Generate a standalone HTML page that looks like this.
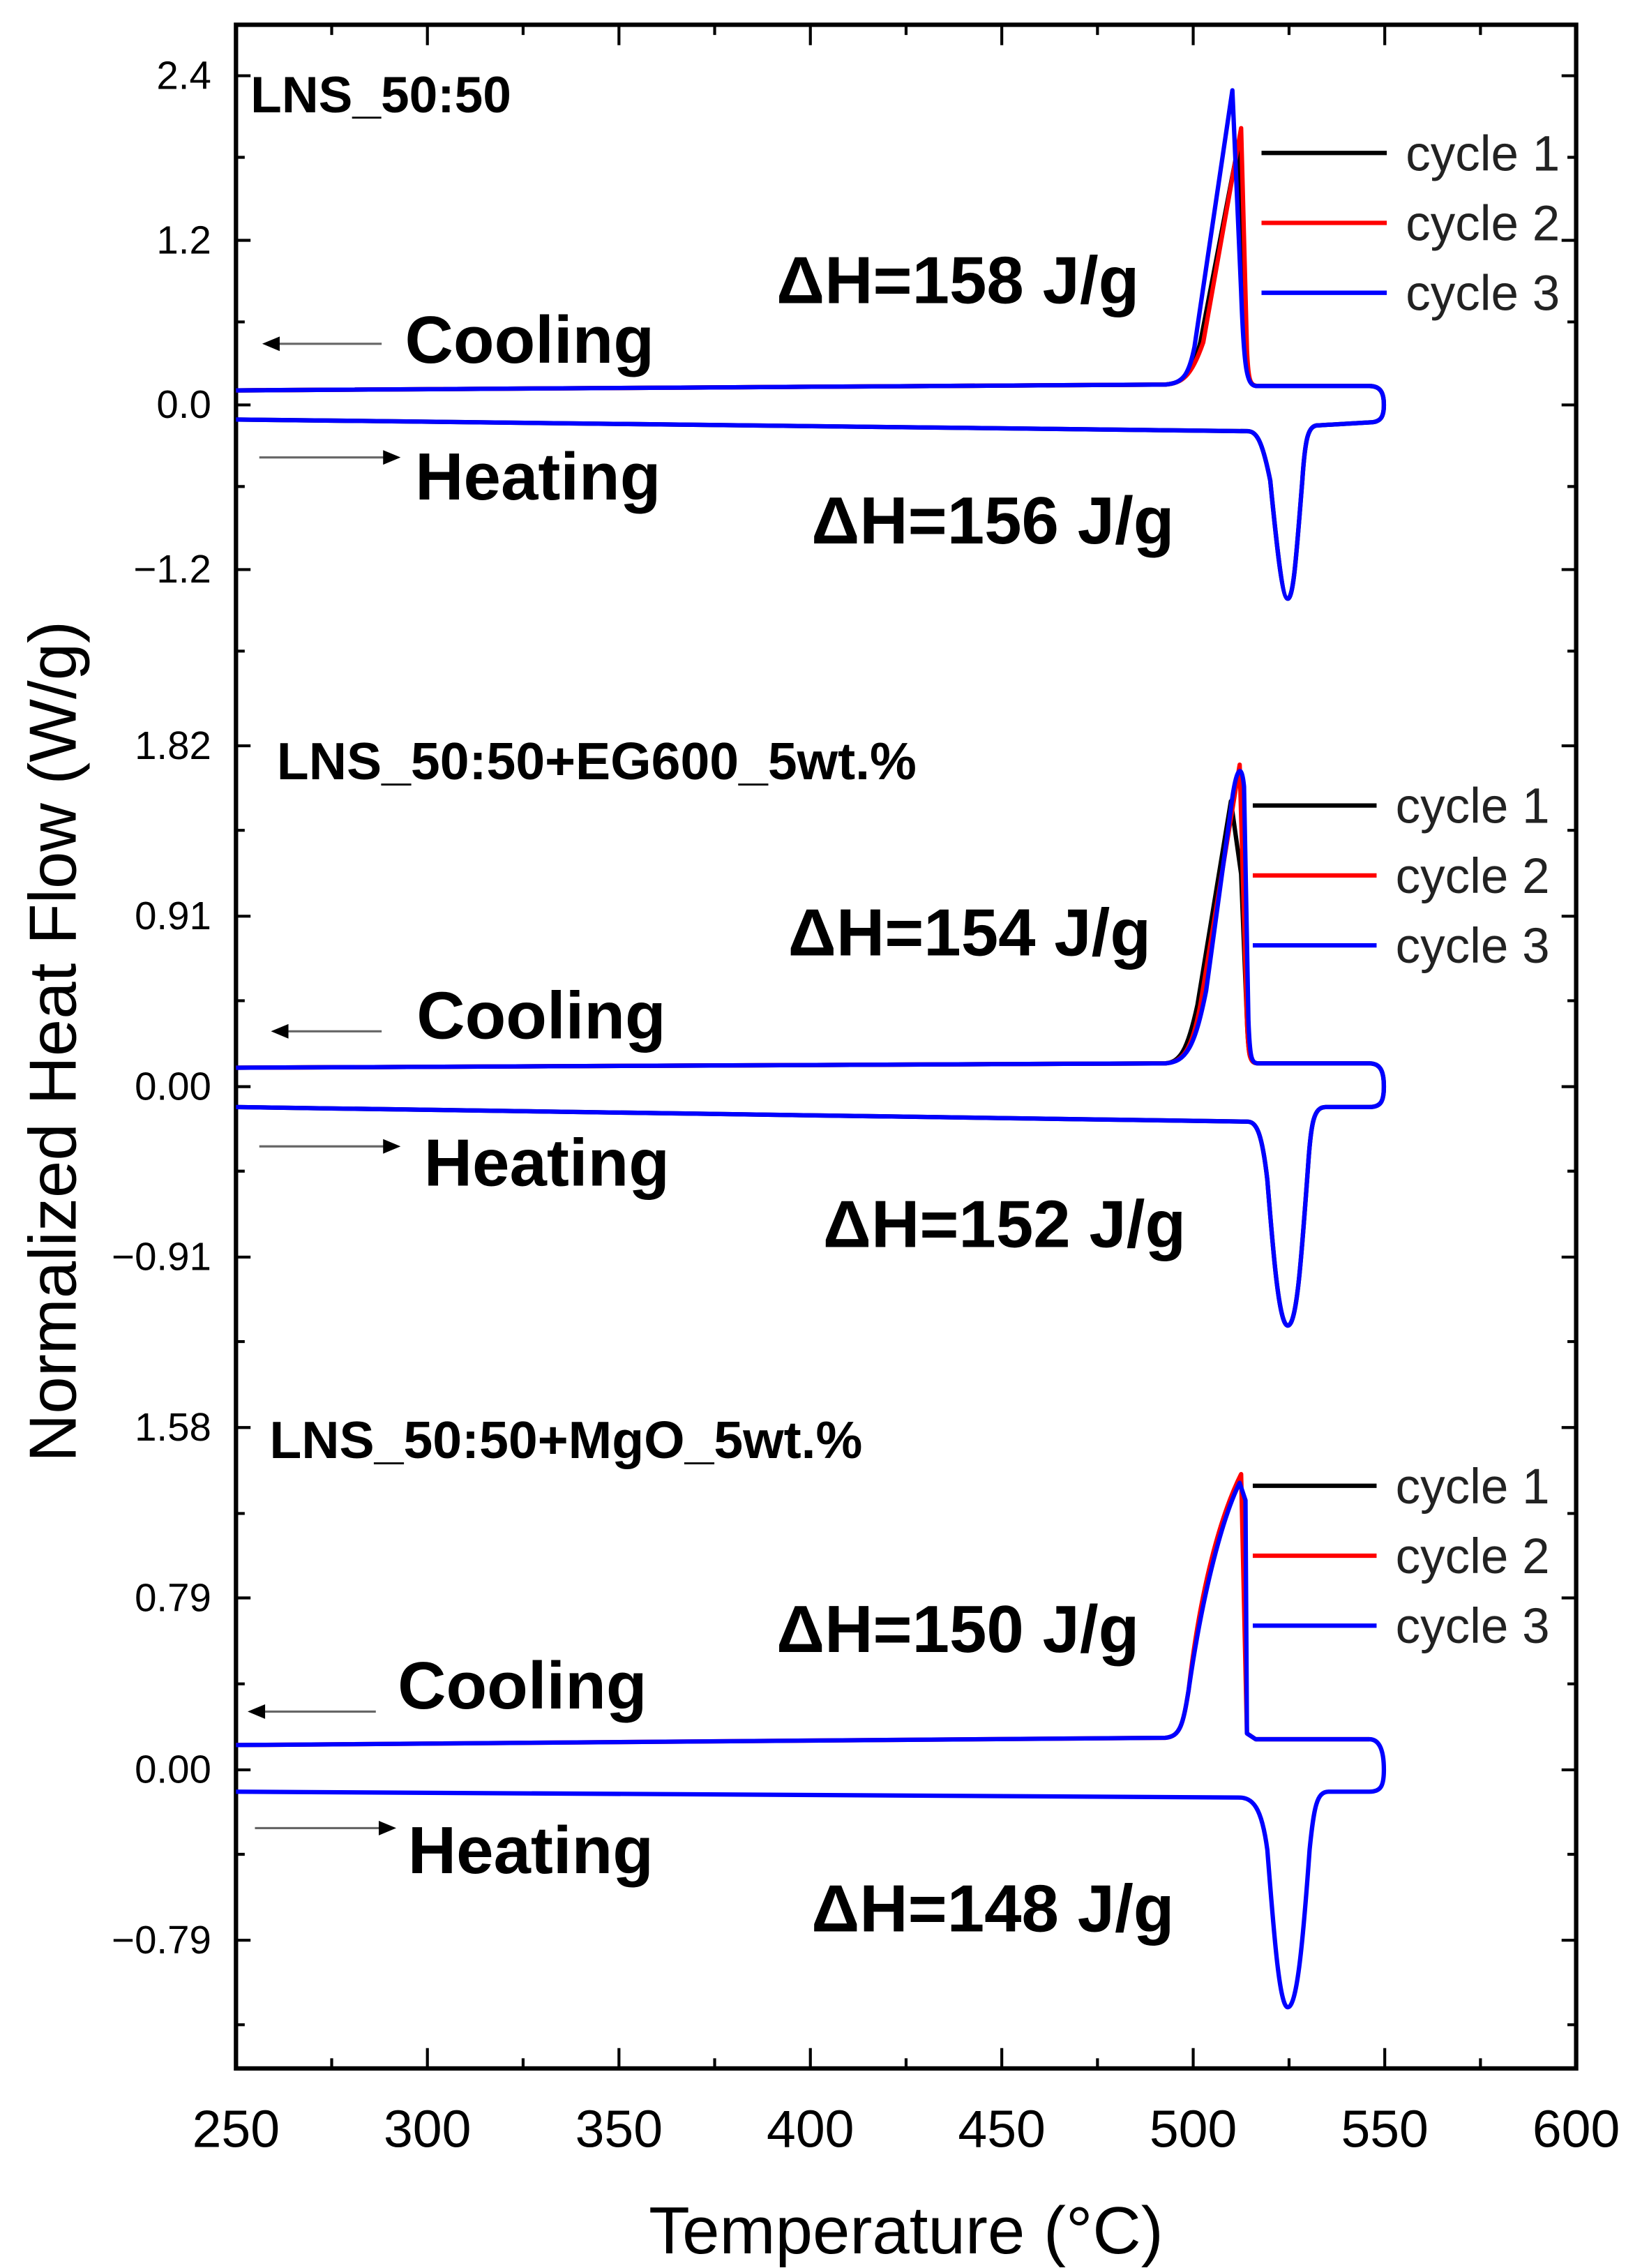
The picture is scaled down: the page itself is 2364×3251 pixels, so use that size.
<!DOCTYPE html>
<html><head><meta charset="utf-8"><style>html,body{margin:0;padding:0;background:#fff}svg{display:block}</style></head>
<body>
<svg width="2364" height="3251" viewBox="0 0 1132 1557" preserveAspectRatio="none" xmlns="http://www.w3.org/2000/svg" font-family="Liberation Sans, sans-serif">
<rect width="1132" height="1557" fill="#fff"/>
<g stroke="#000" stroke-width="2" fill="none">
<rect x="162" y="17" width="920" height="1403" stroke-width="3"/>
<path d="M162,1420v-14M293.4,1420v-14M424.9,1420v-14M556.3,1420v-14M687.7,1420v-14M819.1,1420v-14M950.6,1420v-14
M227.7,1420v-7M359.1,1420v-7M490.6,1420v-7M622,1420v-7M753.4,1420v-7M884.9,1420v-7M1016.3,1420v-7
M293.4,17v14M424.9,17v14M556.3,17v14M687.7,17v14M819.1,17v14M950.6,17v14
M227.7,17v7M359.1,17v7M490.6,17v7M622,17v7M753.4,17v7M884.9,17v7M1016.3,17v7"/>
<path d="M162,52h10M162,165h10M162,278h10M162,391h10M162,512h10M162,629h10M162,746h10M162,863h10M162,980h10M162,1097h10M162,1215h10M162,1332h10
M162,108h6M162,221h6M162,334h6M162,447h6M162,570h6M162,687h6M162,804h6M162,921h6M162,1039h6M162,1156h6M162,1273h6M162,1390h6
M1082,52h-10M1082,165h-10M1082,278h-10M1082,391h-10M1082,512h-10M1082,629h-10M1082,746h-10M1082,863h-10M1082,980h-10M1082,1097h-10M1082,1215h-10M1082,1332h-10
M1082,108h-6M1082,221h-6M1082,334h-6M1082,447h-6M1082,570h-6M1082,687h-6M1082,804h-6M1082,921h-6M1082,1039h-6M1082,1156h-6M1082,1273h-6M1082,1390h-6"/>
</g>
<g font-size="27" text-anchor="end" fill="#000">
<text x="145" y="61">2.4</text><text x="145" y="174">1.2</text><text x="145" y="287">0.0</text><text x="145" y="400">−1.2</text>
<text x="145" y="521">1.82</text><text x="145" y="638">0.91</text><text x="145" y="755">0.00</text><text x="145" y="872">−0.91</text>
<text x="145" y="989">1.58</text><text x="145" y="1106">0.79</text><text x="145" y="1224">0.00</text><text x="145" y="1341">−0.79</text>
</g>
<g font-size="36" text-anchor="middle" fill="#000">
<text x="162" y="1474">250</text><text x="293.4" y="1474">300</text><text x="424.9" y="1474">350</text><text x="556.3" y="1474">400</text><text x="687.7" y="1474">450</text><text x="819.1" y="1474">500</text><text x="950.6" y="1474">550</text><text x="1082" y="1474">600</text>
</g>
<text x="622" y="1547" font-size="46" text-anchor="middle">Temperature (°C)</text>
<text transform="translate(52,715) rotate(-90)" font-size="46" text-anchor="middle">Normalized Heat Flow (W/g)</text>

<g fill="none" stroke-width="3" stroke-linejoin="round">
<path stroke="#000" d="M162,268 L800,264 C812,263 818,258 824,235 L850,100 L855,240 C857,262 858,265 864,265 L940,265 C948,265 950,270 950,278 C950,286 948,290 940,290 L905,292 C898,292 896,300 894,330 C890,380 888,411 884,411 C880,411 876,370 872,330 C866,300 862,296 856,296 L162,288"/>
<path stroke="#f00" d="M162,268 L800,264 C812,263 818,258 826,235 L852,88 L856,240 C857,262 858,265 864,265 L940,265"/>
<path stroke="#00f" d="M162,268 L800,264 C812,263 816,258 820,238 L846,62 L852,200 C854,255 856,264 862,265 L940,265 C948,265 950,270 950,278 C950,286 948,290 940,290 L905,292 C898,292 896,300 894,330 C890,380 888,411 884,411 C880,411 876,370 872,330 C866,300 862,296 856,296 L162,288"/>
<path stroke="#000" d="M162,733 L800,730 C810,729 815,722 822,690 L845,550 L852,600 L856,700 C857,727 858,730 864,730 L940,730 C948,730 950,736 950,746 C950,756 948,760 940,760 L910,760 C902,760 900,770 898,800 C893,870 890,910 884,910 C878,910 874,860 870,810 C866,775 862,770 856,770 L162,760"/>
<path stroke="#f00" d="M162,733 L800,730 C812,729 818,722 824,690 L851,525 L856,700 C857,727 858,730 864,730 L940,730"/>
<path stroke="#00f" d="M162,733 L800,730 C814,729 820,720 828,680 L845,555 C848,530 852,520 854,540 L857,700 C858,727 859,730 864,730 L940,730 C948,730 950,736 950,746 C950,756 948,760 940,760 L910,760 C902,760 900,770 898,800 C893,870 890,910 884,910 C878,910 874,860 870,810 C866,775 862,770 856,770 L162,760"/>
<path stroke="#f00" d="M162,1198 L800,1193 C810,1192 812,1185 816,1160 C824,1090 838,1040 852,1012 L856,1190 L862,1194 L940,1194"/>
<path stroke="#00f" d="M162,1198 L800,1193 C810,1192 812,1185 816,1160 C826,1090 840,1040 851,1018 L855,1030 L856,1190 L862,1194 L940,1194 C948,1194 950,1204 950,1215 C950,1226 948,1230 940,1230 L912,1230 C904,1230 902,1240 899,1270 C894,1340 890,1378 884,1378 C878,1378 874,1320 870,1270 C866,1240 860,1234 850,1234 L162,1230"/>
</g>

<g stroke="#666" stroke-width="1.5">
<path d="M262,236H186M178,314H268M262,708H192M178,787H268M258,1175H176M175,1255H265"/>
</g>
<g fill="#000">
<path d="M180,236l12,-5v10z"/><path d="M275,314l-12,-5v10z"/>
<path d="M186,708l12,-5v10z"/><path d="M275,787l-12,-5v10z"/>
<path d="M170,1175l12,-5v10z"/><path d="M272,1255l-12,-5v10z"/>
</g>

<g font-weight="bold" fill="#000">
<text x="172" y="77" font-size="35">LNS_50:50</text>
<text x="190" y="535" font-size="36">LNS_50:50+EG600_5wt.%</text>
<text x="185" y="1001" font-size="36">LNS_50:50+MgO_5wt.%</text>
<g font-size="46">
<text x="278" y="249">Cooling</text><text x="285" y="343">Heating</text>
<text x="533" y="208">ΔH=158 J/g</text><text x="557" y="373">ΔH=156 J/g</text>
<text x="286" y="713">Cooling</text><text x="291" y="814">Heating</text>
<text x="541" y="656">ΔH=154 J/g</text><text x="565" y="856">ΔH=152 J/g</text>
<text x="273" y="1173">Cooling</text><text x="280" y="1286">Heating</text>
<text x="533" y="1134">ΔH=150 J/g</text><text x="557" y="1326">ΔH=148 J/g</text>
</g></g>

<g stroke-width="3">
<path stroke="#000" d="M866,105H952M860,553H945M860,1020H945"/>
<path stroke="#f00" d="M866,153H952M860,601H945M860,1068H945"/>
<path stroke="#00f" d="M866,201H952M860,649H945M860,1116H945"/>
</g>
<g font-size="34" fill="#222">
<text x="965" y="117">cycle 1</text><text x="965" y="165">cycle 2</text><text x="965" y="213">cycle 3</text>
<text x="958" y="565">cycle 1</text><text x="958" y="613">cycle 2</text><text x="958" y="661">cycle 3</text>
<text x="958" y="1032">cycle 1</text><text x="958" y="1080">cycle 2</text><text x="958" y="1128">cycle 3</text>
</g>
</svg>
</body></html>
